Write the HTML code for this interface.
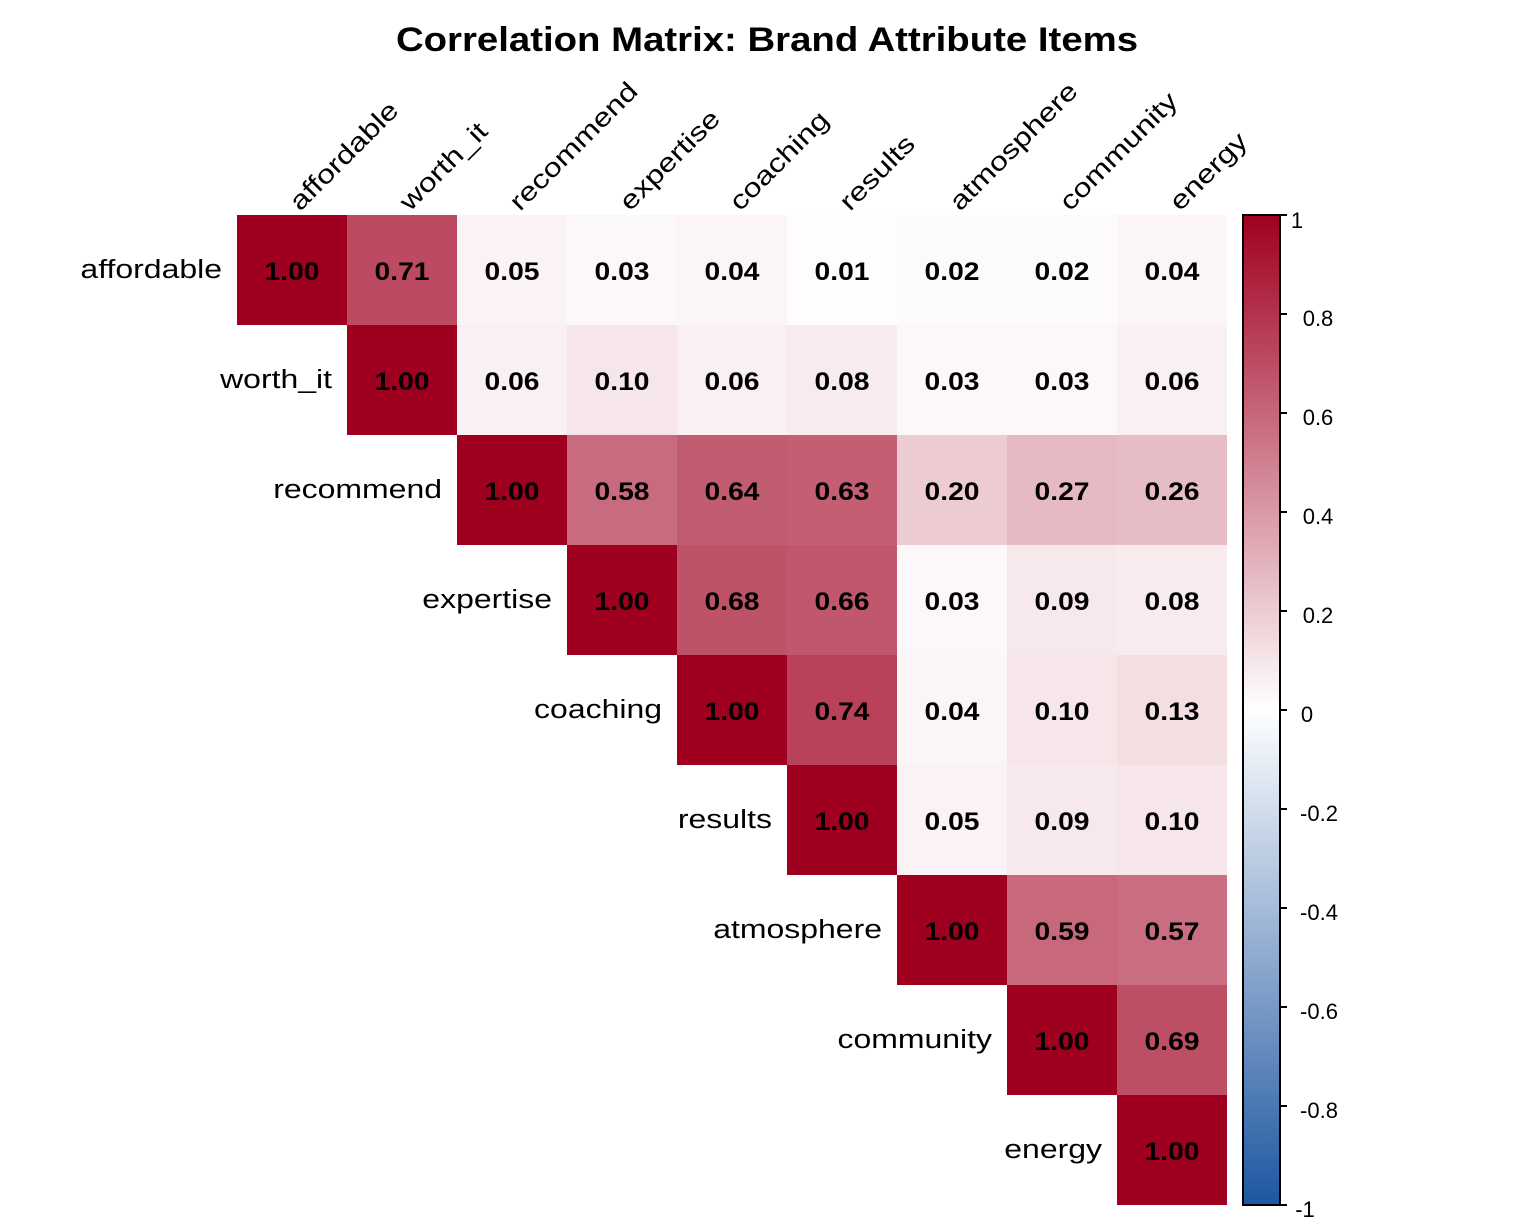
<!DOCTYPE html>
<html><head><style>body{margin:0;background:#fff}svg{display:block}</style></head><body>
<svg width="1536" height="1228" xmlns="http://www.w3.org/2000/svg" font-family="Liberation Sans, Arial, sans-serif">
<defs><linearGradient id="g" x1="0" y1="0" x2="0" y2="1">
<stop offset="0" stop-color="#A00020"/><stop offset="0.5" stop-color="#FFFFFF"/><stop offset="1" stop-color="#1E56A0"/></linearGradient></defs>
<text transform="translate(767,51) scale(1.128,1)" text-anchor="middle" font-weight="bold" font-size="34">Correlation Matrix: Brand Attribute Items</text>
<g stroke="none">
<rect x="237" y="215" width="110" height="110" fill="rgb(160,0,32)"/>
<rect x="347" y="215" width="110" height="110" fill="rgb(188,74,97)"/>
<rect x="457" y="215" width="110" height="110" fill="rgb(250,242,244)"/>
<rect x="567" y="215" width="110" height="110" fill="rgb(252,247,248)"/>
<rect x="677" y="215" width="110" height="110" fill="rgb(251,245,246)"/>
<rect x="787" y="215" width="110" height="110" fill="rgb(254,252,253)"/>
<rect x="897" y="215" width="110" height="110" fill="rgb(253,250,251)"/>
<rect x="1007" y="215" width="110" height="110" fill="rgb(253,250,251)"/>
<rect x="1117" y="215" width="110" height="110" fill="rgb(251,245,246)"/>
<rect x="347" y="325" width="110" height="110" fill="rgb(160,0,32)"/>
<rect x="457" y="325" width="110" height="110" fill="rgb(249,240,242)"/>
<rect x="567" y="325" width="110" height="110" fill="rgb(246,230,233)"/>
<rect x="677" y="325" width="110" height="110" fill="rgb(249,240,242)"/>
<rect x="787" y="325" width="110" height="110" fill="rgb(247,235,237)"/>
<rect x="897" y="325" width="110" height="110" fill="rgb(252,247,248)"/>
<rect x="1007" y="325" width="110" height="110" fill="rgb(252,247,248)"/>
<rect x="1117" y="325" width="110" height="110" fill="rgb(249,240,242)"/>
<rect x="457" y="435" width="110" height="110" fill="rgb(160,0,32)"/>
<rect x="567" y="435" width="110" height="110" fill="rgb(200,107,126)"/>
<rect x="677" y="435" width="110" height="110" fill="rgb(194,92,112)"/>
<rect x="787" y="435" width="110" height="110" fill="rgb(195,94,115)"/>
<rect x="897" y="435" width="110" height="110" fill="rgb(236,204,210)"/>
<rect x="1007" y="435" width="110" height="110" fill="rgb(229,186,195)"/>
<rect x="1117" y="435" width="110" height="110" fill="rgb(230,189,197)"/>
<rect x="567" y="545" width="110" height="110" fill="rgb(160,0,32)"/>
<rect x="677" y="545" width="110" height="110" fill="rgb(190,82,103)"/>
<rect x="787" y="545" width="110" height="110" fill="rgb(192,87,108)"/>
<rect x="897" y="545" width="110" height="110" fill="rgb(252,247,248)"/>
<rect x="1007" y="545" width="110" height="110" fill="rgb(246,232,235)"/>
<rect x="1117" y="545" width="110" height="110" fill="rgb(247,235,237)"/>
<rect x="677" y="655" width="110" height="110" fill="rgb(160,0,32)"/>
<rect x="787" y="655" width="110" height="110" fill="rgb(185,66,90)"/>
<rect x="897" y="655" width="110" height="110" fill="rgb(251,245,246)"/>
<rect x="1007" y="655" width="110" height="110" fill="rgb(246,230,233)"/>
<rect x="1117" y="655" width="110" height="110" fill="rgb(243,222,226)"/>
<rect x="787" y="765" width="110" height="110" fill="rgb(160,0,32)"/>
<rect x="897" y="765" width="110" height="110" fill="rgb(250,242,244)"/>
<rect x="1007" y="765" width="110" height="110" fill="rgb(246,232,235)"/>
<rect x="1117" y="765" width="110" height="110" fill="rgb(246,230,233)"/>
<rect x="897" y="875" width="110" height="110" fill="rgb(160,0,32)"/>
<rect x="1007" y="875" width="110" height="110" fill="rgb(199,105,123)"/>
<rect x="1117" y="875" width="110" height="110" fill="rgb(201,110,128)"/>
<rect x="1007" y="985" width="110" height="110" fill="rgb(160,0,32)"/>
<rect x="1117" y="985" width="110" height="110" fill="rgb(189,79,101)"/>
<rect x="1117" y="1095" width="110" height="110" fill="rgb(160,0,32)"/>
</g>
<g font-weight="bold" font-size="25" text-anchor="middle" fill="#000">
<text transform="translate(292,280) scale(1.13,1)">1.00</text><text transform="translate(402,280) scale(1.13,1)">0.71</text><text transform="translate(512,280) scale(1.13,1)">0.05</text><text transform="translate(622,280) scale(1.13,1)">0.03</text><text transform="translate(732,280) scale(1.13,1)">0.04</text><text transform="translate(842,280) scale(1.13,1)">0.01</text><text transform="translate(952,280) scale(1.13,1)">0.02</text><text transform="translate(1062,280) scale(1.13,1)">0.02</text><text transform="translate(1172,280) scale(1.13,1)">0.04</text>
<text transform="translate(402,390) scale(1.13,1)">1.00</text><text transform="translate(512,390) scale(1.13,1)">0.06</text><text transform="translate(622,390) scale(1.13,1)">0.10</text><text transform="translate(732,390) scale(1.13,1)">0.06</text><text transform="translate(842,390) scale(1.13,1)">0.08</text><text transform="translate(952,390) scale(1.13,1)">0.03</text><text transform="translate(1062,390) scale(1.13,1)">0.03</text><text transform="translate(1172,390) scale(1.13,1)">0.06</text>
<text transform="translate(512,500) scale(1.13,1)">1.00</text><text transform="translate(622,500) scale(1.13,1)">0.58</text><text transform="translate(732,500) scale(1.13,1)">0.64</text><text transform="translate(842,500) scale(1.13,1)">0.63</text><text transform="translate(952,500) scale(1.13,1)">0.20</text><text transform="translate(1062,500) scale(1.13,1)">0.27</text><text transform="translate(1172,500) scale(1.13,1)">0.26</text>
<text transform="translate(622,610) scale(1.13,1)">1.00</text><text transform="translate(732,610) scale(1.13,1)">0.68</text><text transform="translate(842,610) scale(1.13,1)">0.66</text><text transform="translate(952,610) scale(1.13,1)">0.03</text><text transform="translate(1062,610) scale(1.13,1)">0.09</text><text transform="translate(1172,610) scale(1.13,1)">0.08</text>
<text transform="translate(732,720) scale(1.13,1)">1.00</text><text transform="translate(842,720) scale(1.13,1)">0.74</text><text transform="translate(952,720) scale(1.13,1)">0.04</text><text transform="translate(1062,720) scale(1.13,1)">0.10</text><text transform="translate(1172,720) scale(1.13,1)">0.13</text>
<text transform="translate(842,830) scale(1.13,1)">1.00</text><text transform="translate(952,830) scale(1.13,1)">0.05</text><text transform="translate(1062,830) scale(1.13,1)">0.09</text><text transform="translate(1172,830) scale(1.13,1)">0.10</text>
<text transform="translate(952,940) scale(1.13,1)">1.00</text><text transform="translate(1062,940) scale(1.13,1)">0.59</text><text transform="translate(1172,940) scale(1.13,1)">0.57</text>
<text transform="translate(1062,1050) scale(1.13,1)">1.00</text><text transform="translate(1172,1050) scale(1.13,1)">0.69</text>
<text transform="translate(1172,1160) scale(1.13,1)">1.00</text>
</g>
<g font-size="26" text-anchor="end" fill="#000">
<text transform="translate(222,278) scale(1.23,1)">affordable</text>
<text transform="translate(332,388) scale(1.23,1)">worth_it</text>
<text transform="translate(442,498) scale(1.23,1)">recommend</text>
<text transform="translate(552,608) scale(1.23,1)">expertise</text>
<text transform="translate(662,718) scale(1.23,1)">coaching</text>
<text transform="translate(772,828) scale(1.23,1)">results</text>
<text transform="translate(882,938) scale(1.23,1)">atmosphere</text>
<text transform="translate(992,1048) scale(1.23,1)">community</text>
<text transform="translate(1102,1158) scale(1.23,1)">energy</text>
</g>
<g font-size="26" fill="#000">
<text transform="translate(300,212) rotate(-45) scale(1.23,1)">affordable</text>
<text transform="translate(410,212) rotate(-45) scale(1.23,1)">worth_it</text>
<text transform="translate(520,212) rotate(-45) scale(1.23,1)">recommend</text>
<text transform="translate(630,212) rotate(-45) scale(1.23,1)">expertise</text>
<text transform="translate(740,212) rotate(-45) scale(1.23,1)">coaching</text>
<text transform="translate(850,212) rotate(-45) scale(1.23,1)">results</text>
<text transform="translate(960,212) rotate(-45) scale(1.23,1)">atmosphere</text>
<text transform="translate(1070,212) rotate(-45) scale(1.23,1)">community</text>
<text transform="translate(1180,212) rotate(-45) scale(1.23,1)">energy</text>
</g>
<rect x="1243" y="215" width="37" height="990" fill="url(#g)" stroke="#000" stroke-width="2"/>
<g stroke="#000" stroke-width="2">
<line x1="1280" y1="215" x2="1287" y2="215"/><line x1="1280" y1="314" x2="1287" y2="314"/><line x1="1280" y1="413" x2="1287" y2="413"/><line x1="1280" y1="512" x2="1287" y2="512"/><line x1="1280" y1="611" x2="1287" y2="611"/><line x1="1280" y1="710" x2="1287" y2="710"/><line x1="1280" y1="809" x2="1287" y2="809"/><line x1="1280" y1="908" x2="1287" y2="908"/><line x1="1280" y1="1007" x2="1287" y2="1007"/><line x1="1280" y1="1106" x2="1287" y2="1106"/><line x1="1280" y1="1205" x2="1287" y2="1205"/>
</g>
<g font-size="22" fill="#000" text-anchor="middle">
<text x="1297" y="228">1</text><text x="1318" y="326">0.8</text><text x="1318" y="425">0.6</text><text x="1318" y="524">0.4</text><text x="1318" y="623">0.2</text><text x="1307" y="722">0</text><text x="1319" y="821">-0.2</text><text x="1319" y="920">-0.4</text><text x="1319" y="1019">-0.6</text><text x="1319" y="1118">-0.8</text><text x="1305" y="1217">-1</text>
</g>
</svg>
</body></html>
